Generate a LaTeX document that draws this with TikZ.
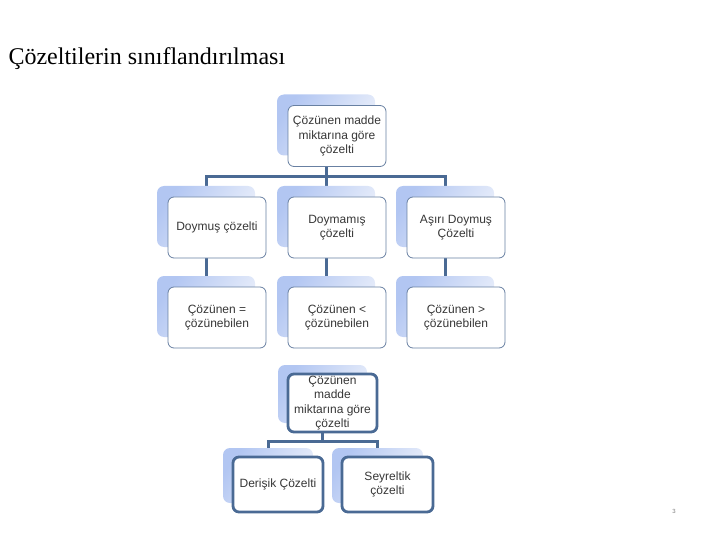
\documentclass[tikz,border=0pt]{standalone}
\usepackage{fontspec}
\setmainfont{Liberation Serif}
\newfontfamily\boxfont{Liberation Sans}
\usepackage[dvipsnames]{xcolor}
\usetikzlibrary{shapes.geometric, arrows, backgrounds}
\definecolor{lineblue}{RGB}{74,106,148}
\definecolor{edgeblue}{RGB}{104,128,162}
\definecolor{shadelight}{RGB}{238,242,251}
\definecolor{shadedark}{RGB}{178,198,242}
\definecolor{textgray}{RGB}{55,55,55}
\tikzstyle{back} = [rectangle, rounded corners=7pt, left color=shadedark, right color=shadelight, shading angle=55, draw=none, inner sep=0pt]
\tikzstyle{front} = [rectangle, rounded corners=6pt, fill=white, draw=edgeblue, line width=0.8pt, align=center, text=textgray, inner sep=0pt, font=\boxfont\fontsize{12}{14.5}\selectfont]
\tikzstyle{frontbold} = [front, draw=lineblue, line width=2.8pt]
\tikzstyle{conn} = [draw=lineblue, line width=3pt]

\begin{document}
\begin{tikzpicture}[x=1pt, y=1pt, yscale=-1]
\useasboundingbox (0,0) rectangle (720,540);

\node at (5,65) (title) [anchor=base west, font=\fontsize{24}{28}\selectfont] {Çözeltilerin sınıflandırılması};

% first tree
\node at (326,125) (rootS) [back, minimum width=98pt, minimum height=61pt] {};
\node at (337,136) (root) [front, minimum width=98pt, minimum height=61pt] {Çözünen madde\\miktarına göre\\çözelti};

\node at (206,216.5) (doyS) [back, minimum width=98pt, minimum height=61pt] {};
\node at (217,227.5) (doy) [front, minimum width=98pt, minimum height=61pt] {Doymuş çözelti};
\node at (326,216.5) (doymS) [back, minimum width=98pt, minimum height=61pt] {};
\node at (337,227.5) (doym) [front, minimum width=98pt, minimum height=61pt] {Doymamış\\çözelti};
\node at (445,216.5) (asiriS) [back, minimum width=98pt, minimum height=61pt] {};
\node at (456,227.5) (asiri) [front, minimum width=98pt, minimum height=61pt] {Aşırı Doymuş\\Çözelti};

\node at (206,306.5) (esitS) [back, minimum width=98pt, minimum height=61pt] {};
\node at (217,317.5) (esit) [front, minimum width=98pt, minimum height=61pt] {Çözünen =\\çözünebilen};
\node at (326,306.5) (azS) [back, minimum width=98pt, minimum height=61pt] {};
\node at (337,317.5) (az) [front, minimum width=98pt, minimum height=61pt] {Çözünen <\\çözünebilen};
\node at (445,306.5) (fazlaS) [back, minimum width=98pt, minimum height=61pt] {};
\node at (456,317.5) (fazla) [front, minimum width=98pt, minimum height=61pt] {Çözünen >\\çözünebilen};

% second tree
\node at (322.5,394) (root2S) [back, minimum width=89pt, minimum height=58pt] {};
\node at (332.5,403) (root2) [frontbold, minimum width=89pt, minimum height=58pt] {Çözünen\\madde\\miktarına göre\\çözelti};
\node at (268,475.5) (derisS) [back, minimum width=90pt, minimum height=55pt] {};
\node at (278,484.5) (deris) [frontbold, minimum width=90pt, minimum height=55pt] {Derişik Çözelti};
\node at (377.5,475.5) (seyS) [back, minimum width=91pt, minimum height=55pt] {};
\node at (387.5,484.5) (sey) [frontbold, minimum width=91pt, minimum height=55pt] {Seyreltik\\çözelti};

\node at (674,511) (page) [font=\boxfont\fontsize{6}{7}\selectfont, text=gray] {3};

\coordinate (bus) at (0,177);
\coordinate (bus2) at (0,441);
\begin{pgfonlayer}{background}
\foreach \c in {doyS, doymS, asiriS}
  \draw[conn] (rootS.center) |- (bus -| \c) -- (\c.center);
\foreach \a/\b in {doyS/esitS, doymS/azS, asiriS/fazlaS}
  \draw[conn] (\a.center) -- (\b.center);
\foreach \c in {derisS, seyS}
  \draw[conn] (root2S.center) |- (bus2 -| \c) -- (\c.center);
\end{pgfonlayer}

\end{tikzpicture}
\end{document}
